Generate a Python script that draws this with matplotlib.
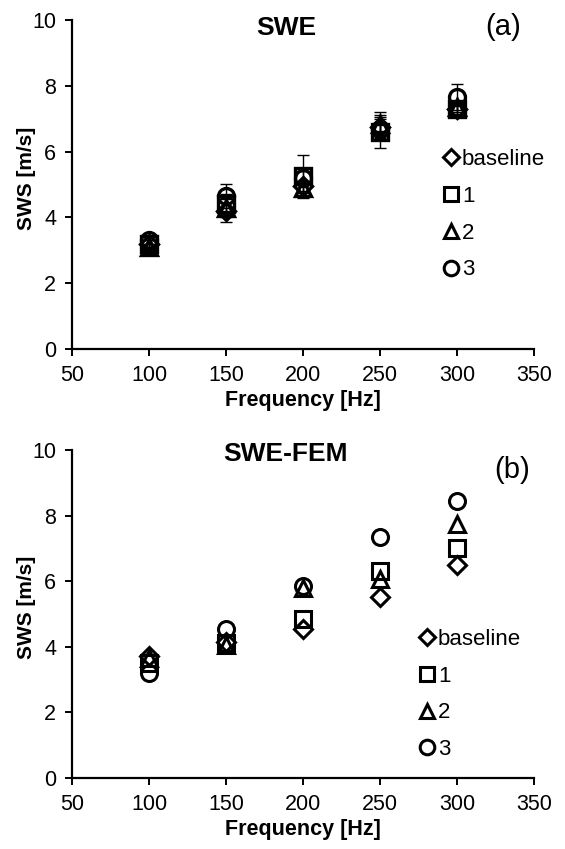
import numpy as np
from matplotlib import pyplot as plt

plt.rcParams['font.family'] = ['Liberation Sans', 'DejaVu Sans']

freq = [100, 150, 200, 250, 300]
series_names = ['baseline', '1', '2', '3']
series_markers = ['D', 's', '^', 'o']

# (a) SWE: mean and std per series
swe_baseline = [3.20, 4.20, 4.95, 6.75, 7.30]
swe_1 = [3.20, 4.40, 5.25, 6.60, 7.30]
swe_2 = [3.10, 4.30, 4.90, 6.85, 7.35]
swe_3 = [3.30, 4.65, 5.20, 6.70, 7.65]
swe_err_baseline = [0.10, 0.35, 0.15, 0.30, 0.15]
swe_err_1 = [0.10, 0.30, 0.65, 0.50, 0.20]
swe_err_2 = [0.10, 0.30, 0.15, 0.35, 0.15]
swe_err_3 = [0.10, 0.35, 0.20, 0.30, 0.40]

# (b) SWE-FEM
fem_baseline = [3.70, 4.15, 4.55, 5.50, 6.50]
fem_1 = [3.50, 4.10, 4.85, 6.30, 7.00]
fem_2 = [3.65, 4.05, 5.80, 6.05, 7.75]
fem_3 = [3.20, 4.55, 5.85, 7.35, 8.45]

marker_sizes = {'D': 9, 's': 11, '^': 11, 'o': 11.5}

fig = plt.figure(figsize = (5.65, 8.49), dpi = 100)
ax_a = fig.add_axes([0.1274, 0.589, 0.8177, 0.3874])
ax_b = fig.add_axes([0.1274, 0.084, 0.8177, 0.386])

def style_axes(ax):
  ax.set_xlim(50, 350)
  ax.set_ylim(0, 10)
  ax.set_xticks(np.arange(50, 351, 50))
  ax.set_yticks(np.arange(0, 11, 2))
  for side in ['top', 'right']:
    ax.spines[side].set_visible(False)
  for side in ['left', 'bottom']:
    ax.spines[side].set_linewidth(1.6)
  ax.tick_params(direction = 'out', length = 5, width = 1.4, labelsize = 15.5, pad = 6.5)
  ax.set_xlabel('Frequency [Hz]', fontsize = 15.5, fontweight = 'bold', labelpad = 3)
  ax.set_ylabel('SWS [m/s]', fontsize = 15, fontweight = 'bold')
  ax.yaxis.set_label_coords(-0.078, 0.52)

def add_legend(ax, x, y):
  handles = [plt.Line2D([], [], linestyle = 'none', marker = m, markersize = marker_sizes[m] - 1,
                        markerfacecolor = 'none', markeredgecolor = 'black', markeredgewidth = 2.2)
             for m in series_markers]
  ax.legend(handles, series_names, loc = 'upper left', bbox_to_anchor = (x, y),
            frameon = False, fontsize = 16, handlelength = 0.8, handletextpad = 0.1,
            labelspacing = 0.71, borderaxespad = 0, borderpad = 0)

# panel (a)
swe_vals = [swe_baseline, swe_1, swe_2, swe_3]
swe_errs = [swe_err_baseline, swe_err_1, swe_err_2, swe_err_3]
for vals, errs in zip(swe_vals, swe_errs):
  ax_a.errorbar(freq, vals, yerr = errs, fmt = 'none', ecolor = 'black',
                elinewidth = 1, capsize = 4.5, capthick = 1, zorder = 2)
for vals, m in zip(swe_vals, series_markers):
  ax_a.plot(freq, vals, linestyle = 'none', marker = m, markersize = marker_sizes[m],
            markerfacecolor = 'none', markeredgecolor = 'black', markeredgewidth = 2.4, zorder = 3)
style_axes(ax_a)
ax_a.text(0.463, 0.976, 'SWE', transform = ax_a.transAxes, ha = 'center', va = 'center',
          fontsize = 19, fontweight = 'bold')
ax_a.text(0.933, 0.979, '(a)', transform = ax_a.transAxes, ha = 'center', va = 'center',
          fontsize = 21)
add_legend(ax_a, 0.801, 0.608)

# panel (b)
fem_vals = [fem_baseline, fem_1, fem_2, fem_3]
for vals, m in zip(fem_vals, series_markers):
  ax_b.plot(freq, vals, linestyle = 'none', marker = m, markersize = marker_sizes[m],
            markerfacecolor = 'none', markeredgecolor = 'black', markeredgewidth = 2.2, zorder = 3)
style_axes(ax_b)
ax_b.text(0.463, 0.988, 'SWE-FEM', transform = ax_b.transAxes, ha = 'center', va = 'center',
          fontsize = 19, fontweight = 'bold')
ax_b.text(0.952, 0.939, '(b)', transform = ax_b.transAxes, ha = 'center', va = 'center',
          fontsize = 21)
add_legend(ax_b, 0.749, 0.454)

fig.savefig('out.png', dpi = 100)
